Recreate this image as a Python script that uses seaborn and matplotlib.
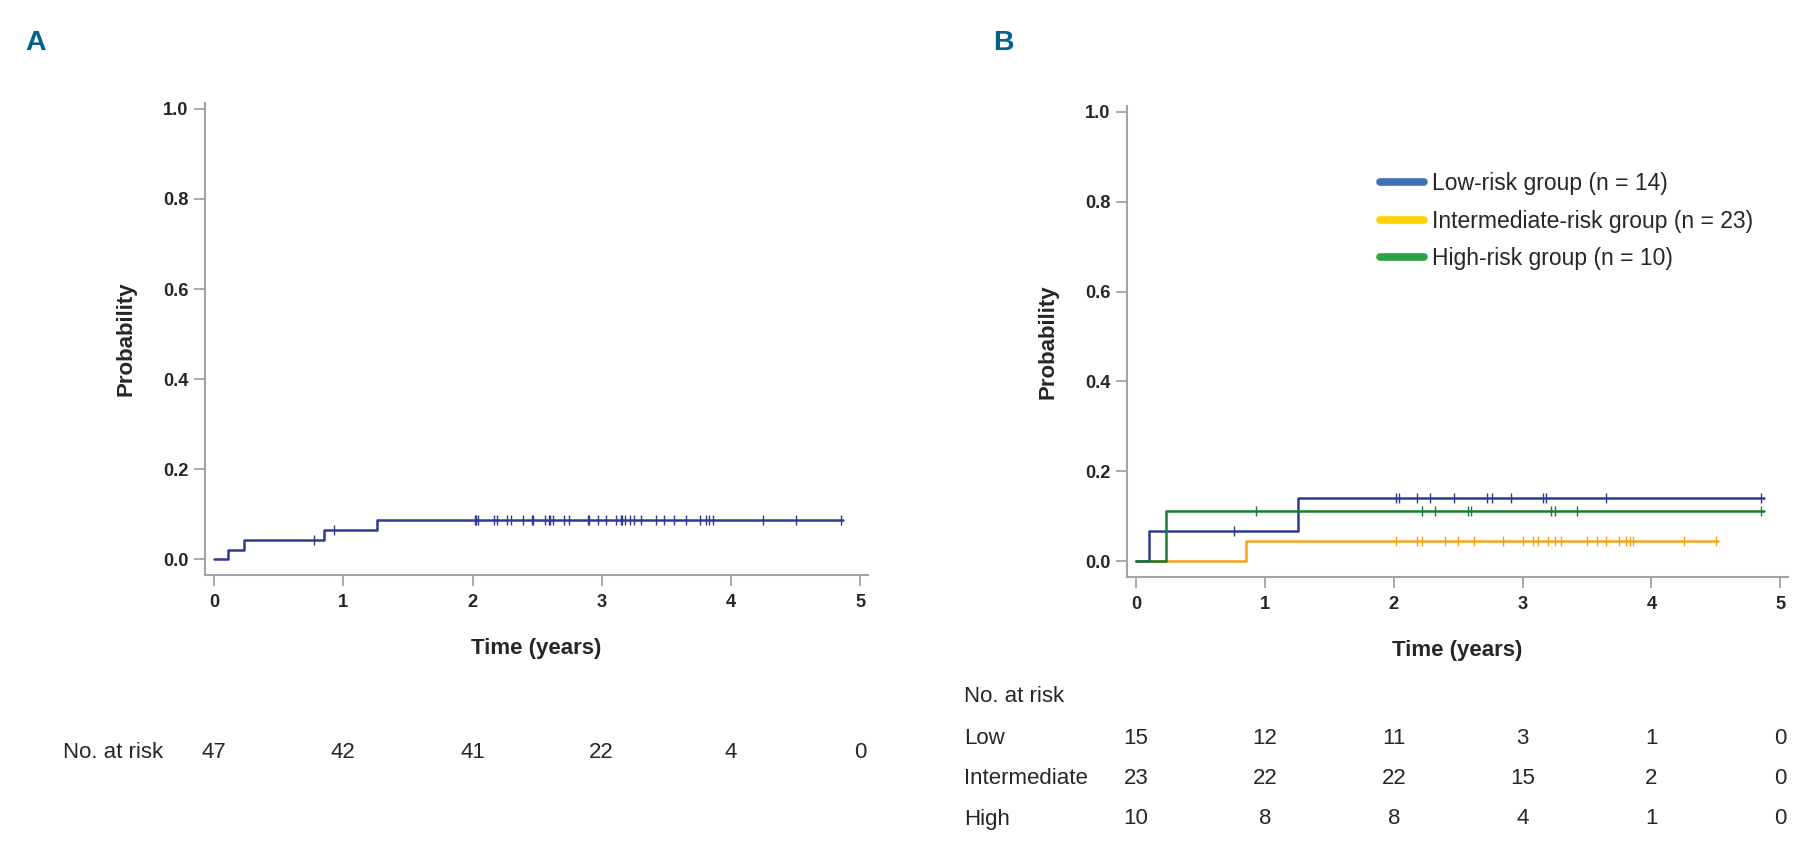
import numpy as np
import matplotlib
matplotlib.use('Agg')
import matplotlib.pyplot as plt
import matplotlib.transforms as mtransforms
from matplotlib import font_manager
from matplotlib.lines import Line2D
import seaborn as sns

# Panel A: whole cohort
a_step_times = [0.0, 0.11, 0.23, 0.85, 1.26]
a_step_probs = [0.0, 0.021, 0.043, 0.064, 0.087]
a_end_time = 4.87
a_censor = [0.77, 0.93, 2.02, 2.03, 2.04, 2.17, 2.19, 2.27, 2.30, 2.39, 2.46, 2.47,
            2.56, 2.59, 2.60, 2.62, 2.71, 2.75, 2.89, 2.90, 2.97, 3.03, 3.11, 3.15,
            3.16, 3.18, 3.22, 3.25, 3.30, 3.42, 3.48, 3.56, 3.65, 3.76, 3.81, 3.83,
            3.86, 4.25, 4.50, 4.85]
a_risk_counts = [47, 42, 41, 22, 4, 0]

# Panel B: risk groups
groups = ['Low', 'Intermediate', 'High']
legend_labels = ['Low-risk group (n = 14)', 'Intermediate-risk group (n = 23)',
                 'High-risk group (n = 10)']
low_step_times = [0.0, 0.10, 1.26]
low_step_probs = [0.0, 0.067, 0.140]
low_end_time = 4.87
low_censor = [0.76, 2.02, 2.04, 2.18, 2.28, 2.47, 2.72, 2.76, 2.91, 3.16, 3.18, 3.65, 4.85]

int_step_times = [0.0, 0.85]
int_step_probs = [0.0, 0.045]
int_end_time = 4.52
int_censor = [2.02, 2.18, 2.22, 2.40, 2.50, 2.62, 2.85, 3.00, 3.08, 3.12, 3.20, 3.25,
              3.30, 3.50, 3.58, 3.65, 3.75, 3.80, 3.83, 3.86, 4.25, 4.50]

high_step_times = [0.0, 0.23]
high_step_probs = [0.0, 0.111]
high_end_time = 4.87
high_censor = [0.93, 2.22, 2.32, 2.58, 2.60, 3.22, 3.25, 3.42, 4.85]

b_risk_counts = {'Low': [15, 12, 11, 3, 1, 0],
                 'Intermediate': [23, 22, 22, 15, 2, 0],
                 'High': [10, 8, 8, 4, 1, 0]}

risk_times = [0, 1, 2, 3, 4, 5]
y_ticks = [0.0, 0.2, 0.4, 0.6, 0.8, 1.0]

line_colors = {'Low': '#2e3a8f', 'Intermediate': '#f5a31a', 'High': '#1c7a30'}
legend_colors = ['#3f6fb5', '#ffd200', '#2ca344']
a_color = '#2e3a8f'
spine_color = '#a3a3a3'
letter_color = '#00608f'

sns.set_theme(style='white')
plt.rcParams['font.family'] = ['Liberation Sans', 'DejaVu Sans']

# condensed face for the bold axis text, if it is installed
try:
    font_manager.findfont('Liberation Sans Narrow', fallback_to_default=False)
    narrow = ['Liberation Sans Narrow', 'Liberation Sans']
    nscale = 1.0
except Exception:
    narrow = ['Liberation Sans', 'DejaVu Sans']
    nscale = 0.82


def km_curve(ax, times, probs, end_time, censor, color):
    t = list(times) + [end_time]
    p = list(probs) + [probs[-1]]
    sns.lineplot(x=t, y=p, drawstyle='steps-post', estimator=None, sort=False,
                 color=color, lw=1.8, ax=ax)
    idx = np.searchsorted(np.array(times), np.array(censor), side='right') - 1
    cy = np.array(probs)[idx]
    sns.scatterplot(x=censor, y=cy, marker='|', s=60, linewidth=1.0,
                    color=color, ax=ax, zorder=3)


def style_axes(ax):
    ax.set_xlim(-0.07, 5.06)
    ax.set_ylim(-0.035, 1.013)
    ax.set_xticks(risk_times)
    ax.set_yticks(y_ticks)
    ax.set_yticklabels(['{:.1f}'.format(v) for v in y_ticks])
    sns.despine(ax=ax)
    for s in ['left', 'bottom']:
        ax.spines[s].set_color(spine_color)
        ax.spines[s].set_linewidth(1.5)
    ax.tick_params(axis='both', length=8, width=1.3, color=spine_color,
                   labelsize=16 * nscale, pad=4, bottom=True, left=True)
    ax.tick_params(axis='x', pad=6)
    for lab in ax.get_xticklabels() + ax.get_yticklabels():
        lab.set_fontweight('bold')
        lab.set_family(narrow)
    ax.set_xlabel('Time (years)', fontsize=19.5 * nscale, fontweight='bold',
                  family=narrow, labelpad=19)
    ax.set_ylabel('Probability', fontsize=19.5 * nscale, fontweight='bold',
                  family=narrow, labelpad=19)


fig = plt.figure(figsize=(18.03, 8.52), dpi=100)
ax_a = fig.add_axes([0.1137, 0.3251, 0.3677, 0.5540])
ax_b = fig.add_axes([0.6251, 0.3228, 0.3666, 0.5528])

# Panel A
km_curve(ax_a, a_step_times, a_step_probs, a_end_time, a_censor, a_color)
style_axes(ax_a)

# Panel B
km_curve(ax_b, int_step_times, int_step_probs, int_end_time, int_censor, line_colors['Intermediate'])
km_curve(ax_b, low_step_times, low_step_probs, low_end_time, low_censor, line_colors['Low'])
km_curve(ax_b, high_step_times, high_step_probs, high_end_time, high_censor, line_colors['High'])
style_axes(ax_b)

handles = [Line2D([0], [0], color=c, lw=5.5) for c in legend_colors]
ax_b.legend(handles, legend_labels, loc='upper left', bbox_to_anchor=(0.383, 0.859),
            frameon=False, fontsize=16.5, handlelength=1.9, handletextpad=0.35,
            labelspacing=0.62, borderpad=0, borderaxespad=0)

# Panel letters
fig.text(0.014, 0.949, 'A', fontsize=25 * nscale, fontweight='bold', color=letter_color,
         family=narrow, va='center')
fig.text(0.551, 0.949, 'B', fontsize=25 * nscale, fontweight='bold', color=letter_color,
         family=narrow, va='center')

# Numbers at risk
tr_a = mtransforms.blended_transform_factory(ax_a.transData, fig.transFigure)
fig.text(0.035, 1 - 753 / 852, 'No. at risk', fontsize=16, va='center')
for t, n in zip(risk_times, a_risk_counts):
    ax_a.text(t, 1 - 753 / 852, str(n), transform=tr_a, fontsize=16,
              ha='center', va='center')

tr_b = mtransforms.blended_transform_factory(ax_b.transData, fig.transFigure)
fig.text(0.5347, 1 - 696 / 852, 'No. at risk', fontsize=16, va='center')
row_y = {'Low': 739, 'Intermediate': 779, 'High': 819}
for g in groups:
    fig.text(0.5347, 1 - row_y[g] / 852, g, fontsize=16, va='center')
    for t, n in zip(risk_times, b_risk_counts[g]):
        ax_b.text(t, 1 - row_y[g] / 852, str(n), transform=tr_b, fontsize=16,
                  ha='center', va='center')

fig.savefig('out.png', dpi=100)
